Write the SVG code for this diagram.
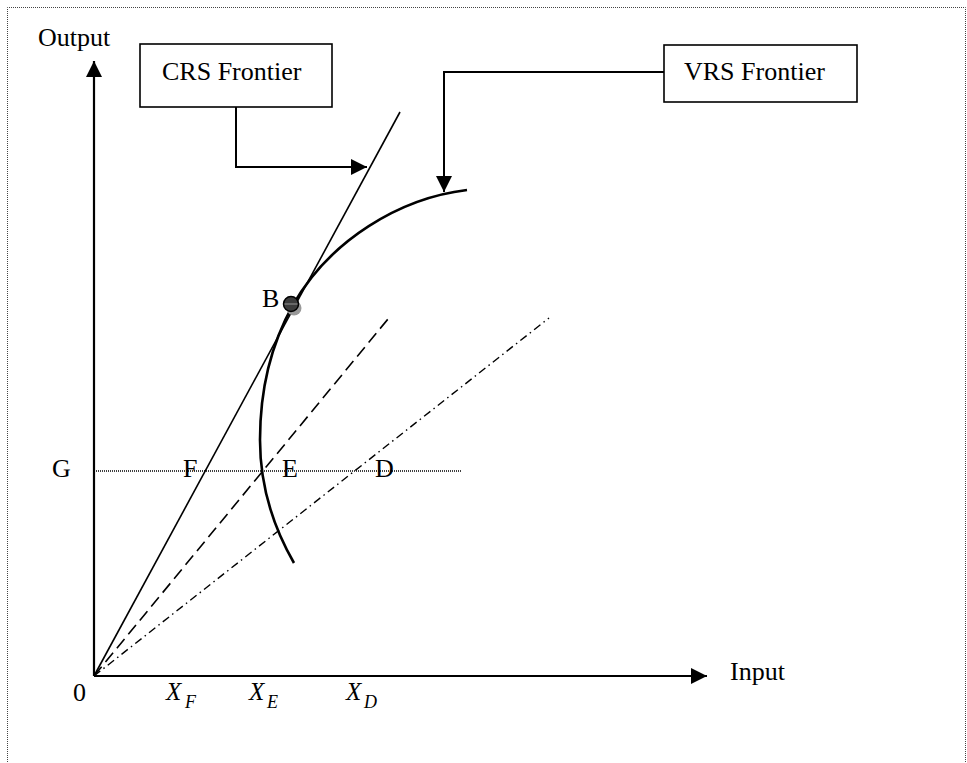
<svg xmlns="http://www.w3.org/2000/svg" width="967" height="763" viewBox="0 0 967 763">
<style>
  text { font-family: "Liberation Serif", "Times New Roman", serif; font-size: 26px; fill: #000; }
  .math { font-family: "Liberation Serif", "DejaVu Serif", serif; font-style: italic; font-size: 25px; }
  .sub { font-family: "Liberation Serif", "DejaVu Serif", serif; font-style: italic; font-size: 18px; }
  .box { fill: #fff; stroke: #000; stroke-width: 1.6; }
  .conn { fill: none; stroke: #000; stroke-width: 2; }
  .axis { fill: none; stroke: #000; stroke-width: 2.2; }
</style>
<defs>
  <marker id="ah" viewBox="0 0 16 16" refX="16" refY="8" markerWidth="16" markerHeight="16" markerUnits="userSpaceOnUse" orient="auto">
    <path d="M0,0 L16,8 L0,16 Z" fill="#000"/>
  </marker>
</defs>
<rect x="0" y="0" width="967" height="763" fill="#fff"/>
<path d="M7.5,790 V7.5 H965.5 V790" fill="none" stroke="#444" stroke-width="1" stroke-dasharray="1,1"/>

<g id="axes">
  <line class="axis" x1="94" y1="676" x2="94" y2="61" marker-end="url(#ah)"/>
  <line class="axis" x1="94" y1="676" x2="707" y2="676" marker-end="url(#ah)"/>
</g>

<g id="lines">
  <line x1="94" y1="676" x2="400" y2="112" stroke="#000" stroke-width="1.6"/>
  <line x1="94" y1="676" x2="388" y2="319" stroke="#000" stroke-width="1.6" stroke-dasharray="12,6"/>
  <line x1="94" y1="676" x2="549" y2="318" stroke="#000" stroke-width="1.4" stroke-dasharray="8,4,1.5,4"/>
  <line x1="94" y1="471" x2="461" y2="471" stroke="#000" stroke-width="1.4" stroke-dasharray="1,1"/>
  <path d="M467,190 C400,198 330,240 293,305 C270,346 260,390 260,440 C260,490 275,530 294,563" fill="none" stroke="#000" stroke-width="2.6"/>
</g>

<g id="nodeB">
  <circle cx="294" cy="308" r="7.5" fill="#999"/>
  <circle cx="291" cy="304" r="7.5" fill="#3c3c3c" stroke="#000" stroke-width="1.5"/>
  <line x1="284.5" y1="304" x2="297.5" y2="304" stroke="#888" stroke-width="1.2"/>
  <text x="262" y="307">B</text>
</g>

<g id="crs">
  <rect class="box" x="140" y="44" width="192" height="63"/>
  <text x="162" y="80">CRS Frontier</text>
</g>
<g id="vrs">
  <rect class="box" x="664" y="45" width="193" height="57"/>
  <text x="684" y="80">VRS Frontier</text>
</g>

<g id="connectors">
  <path class="conn" d="M236,107 V167 H367" marker-end="url(#ah)"/>
  <path class="conn" d="M664,72 H444 V192" marker-end="url(#ah)"/>
</g>

<g id="labels">
  <text x="38" y="46">Output</text>
  <text x="730" y="680">Input</text>
  <text x="52" y="477">G</text>
  <text x="183" y="477">F</text>
  <text x="282" y="477">E</text>
  <text x="375" y="477">D</text>
  <text x="73" y="701">0</text>
  <text class="math" x="166" y="700">X</text><text class="sub" x="185" y="708">F</text>
  <text class="math" x="249" y="700">X</text><text class="sub" x="267" y="708">E</text>
  <text class="math" x="346" y="700">X</text><text class="sub" x="364" y="708">D</text>
</g>
</svg>
